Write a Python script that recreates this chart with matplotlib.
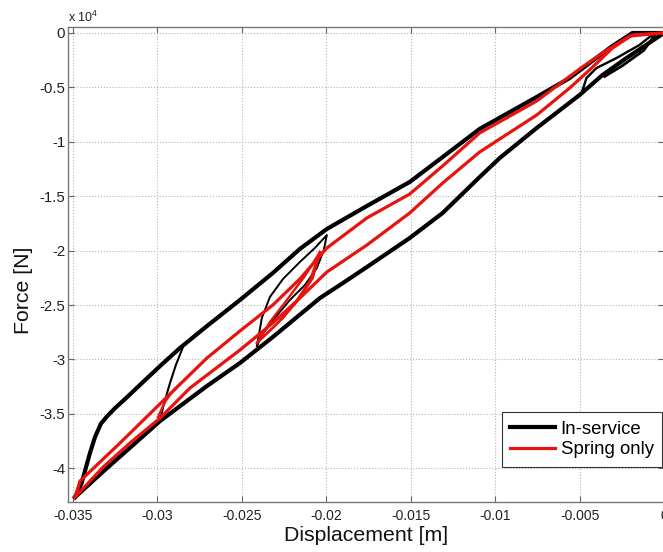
import numpy as np
import matplotlib.pyplot as plt

plt.rcParams['font.family'] = ['Liberation Sans', 'DejaVu Sans']
plt.rcParams['mathtext.fontset'] = 'custom'
plt.rcParams['mathtext.rm'] = 'Liberation Sans'

# displacement in m, force in units of 1e4 N (as on the axis)
# --- In-service (black) ---
ub_x = [-0.03488, -0.03450, -0.03400, -0.03370, -0.03335, -0.03300, -0.03251, -0.03180,
        -0.03086, -0.02985, -0.02867, -0.02707, -0.02512, -0.02317, -0.02157, -0.01997,
        -0.01760, -0.01506, -0.01311, -0.01092, -0.00754, -0.00559, -0.00441, -0.00305,
        -0.00187, 0.0]
ub_y = [-4.265, -4.140, -3.860, -3.713, -3.590, -3.525, -3.447, -3.346,
        -3.208, -3.061, -2.895, -2.693, -2.454, -2.206, -1.985, -1.801,
        -1.590, -1.369, -1.140, -0.882, -0.588, -0.414, -0.276, -0.119,
        0.000, 0.0]

lb_x = [-0.03488, -0.03299, -0.03145, -0.02985, -0.02707, -0.02512, -0.02317, -0.02038,
        -0.01902, -0.01760, -0.01506, -0.01311, -0.01092, -0.00973, -0.00754, -0.00500,
        -0.00364, -0.00222, -0.00044, -0.00009]
lb_y = [-4.265, -3.998, -3.787, -3.566, -3.244, -3.033, -2.794, -2.436,
        -2.298, -2.151, -1.884, -1.654, -1.324, -1.149, -0.873, -0.570,
        -0.386, -0.230, -0.046, -0.009]

# partial cycles
b30_x = [-0.02985, -0.02967, -0.02926, -0.02891, -0.02849]
b30_y = [-3.566, -3.438, -3.217, -3.051, -2.886]

lens_x = [-0.02411, -0.02382, -0.02334, -0.02257, -0.02157, -0.02068, -0.01997,
          -0.02015, -0.02056, -0.02127, -0.02216, -0.02305, -0.02382, -0.02411]
lens_y = [-2.877, -2.619, -2.426, -2.261, -2.105, -1.976, -1.857,
          -1.994, -2.160, -2.316, -2.454, -2.619, -2.776, -2.877]

b05_x = [-0.00482, -0.00459, -0.00400, -0.00281, -0.00145, -0.00086, -0.00050]
b05_y = [-0.524, -0.414, -0.322, -0.230, -0.110, -0.037, 0.0]

b05b_x = [-0.00050, -0.00120, -0.00246, -0.00352]
b05b_y = [-0.010, -0.160, -0.300, -0.400]

# --- Spring only (red) ---
ur_x = [-0.03488, -0.03459, -0.03222, -0.02926, -0.02707, -0.02512, -0.02317, -0.02157,
        -0.01997, -0.01760, -0.01506, -0.01311, -0.01092, -0.00754, -0.00500, -0.00364,
        -0.00204, -0.00009]
ur_y = [-4.265, -4.118, -3.768, -3.318, -2.987, -2.739, -2.500, -2.261,
        -1.976, -1.700, -1.480, -1.222, -0.919, -0.625, -0.331, -0.184,
        -0.028, 0.000]

lr_x = [-0.03488, -0.03322, -0.03163, -0.02985, -0.02808, -0.02512, -0.02317, -0.02157,
        -0.01997, -0.01760, -0.01506, -0.01311, -0.01092, -0.00754, -0.00559, -0.00441,
        -0.00305, -0.00187, -0.00009]
lr_y = [-4.265, -3.989, -3.768, -3.539, -3.263, -2.914, -2.665, -2.436,
        -2.197, -1.949, -1.654, -1.379, -1.094, -0.754, -0.506, -0.340,
        -0.138, -0.018, 0.000]

r30_x = [-0.02997, -0.02956, -0.02914, -0.02867]
r30_y = [-3.529, -3.392, -3.300, -3.226]

ra_x = [-0.02411, -0.02334, -0.02234, -0.02127, -0.02038]
ra_y = [-2.849, -2.656, -2.454, -2.233, -2.013]
rb_x = [-0.02411, -0.02293, -0.02186, -0.02098, -0.02038]
rb_y = [-2.849, -2.675, -2.482, -2.279, -2.013]
rc_x = [-0.02382, -0.02257, -0.02157, -0.02080, -0.02038]
rc_y = [-2.803, -2.619, -2.436, -2.252, -2.013]

xticks = [-0.035, -0.03, -0.025, -0.02, -0.015, -0.01, -0.005, 0]
xticklabels = ['-0.035', '-0.03', '-0.025', '-0.02', '-0.015', '-0.01', '-0.005', '0']
yticks = [0, -0.5, -1, -1.5, -2, -2.5, -3, -3.5, -4]
yticklabels = ['0', '-0.5', '-1', '-1.5', '-2', '-2.5', '-3', '-3.5', '-4']

fig = plt.figure(figsize=(6.63, 5.52), dpi=100)
ax = fig.add_axes([68/663, 50/552, 596/663, 475/552])

blk = 'black'
red = '#e8130f'

ax.plot(ub_x, ub_y, color=blk, lw=3.0, label='In-service', solid_joinstyle='round')
ax.plot(lb_x, lb_y, color=blk, lw=3.0, solid_joinstyle='round')
ax.plot(b30_x, b30_y, color=blk, lw=1.5)
ax.plot(lens_x, lens_y, color=blk, lw=1.4)
ax.plot(b05_x, b05_y, color=blk, lw=1.7)
ax.plot(b05b_x, b05b_y, color=blk, lw=2.0)

ax.plot(ur_x, ur_y, color=red, lw=2.3, label='Spring only', solid_joinstyle='round')
ax.plot(lr_x, lr_y, color=red, lw=2.3, solid_joinstyle='round')
ax.plot(r30_x, r30_y, color=red, lw=1.7)
for xs, ys in [(ra_x, ra_y), (rb_x, rb_y), (rc_x, rc_y)]:
    ax.plot(xs, ys, color=red, lw=1.7)

ax.set_xlim(-0.0353, 0.0)
ax.set_ylim(-4.31, 0.055)
ax.set_xticks(xticks)
ax.set_xticklabels(xticklabels)
ax.set_yticks(yticks)
ax.set_yticklabels(yticklabels)
ax.tick_params(direction='in', top=True, right=True, length=4, width=0.8,
               labelcolor='#222222', color='#666666')
ax.tick_params(axis='x', labelsize=10, pad=5)
ax.tick_params(axis='y', labelsize=10.8, pad=2)
for s in ax.spines.values():
    s.set_color('#777777')
    s.set_linewidth(1.0)
ax.grid(True, linestyle=':', color='#b5b5b5', linewidth=0.8)
ax.set_axisbelow(True)

ax.set_xlabel('Displacement [m]', fontsize=15.3, color='#111111', labelpad=2)
ax.set_ylabel('Force [N]', fontsize=15.3, color='#111111')
ax.yaxis.set_label_coords(-0.058, 0.446)
ax.text(0.0, 1.004, r'x 10$^{\mathregular{4}}$', transform=ax.transAxes,
        fontsize=9, color='#222222', ha='left', va='bottom')

leg = ax.legend(loc='lower right', bbox_to_anchor=(0.997, 0.074), borderaxespad=0,
                fancybox=False, framealpha=1, edgecolor='#333333', fontsize=13.4,
                handlelength=2.4, handletextpad=0.3, borderpad=0.45, labelspacing=0.2)
leg.get_frame().set_linewidth(0.8)

fig.savefig('out.png', dpi=100)
